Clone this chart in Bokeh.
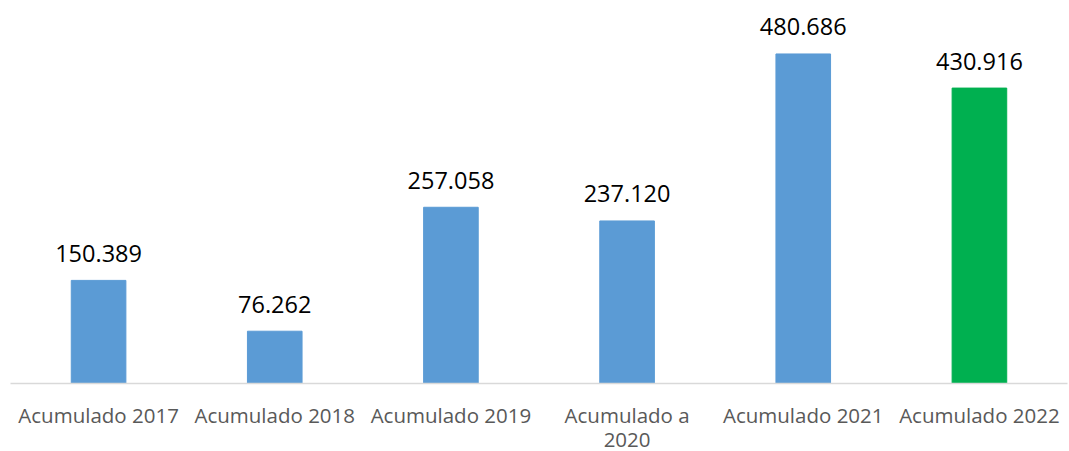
import json
from bokeh.plotting import figure
from bokeh.models import ColumnDataSource, Range1d, CategoricalAxis, CustomJSTickFormatter
from bokeh.core.properties import value
from bokeh.embed import file_html
from bokeh.resources import INLINE

categories = ["Acumulado 2017", "Acumulado 2018", "Acumulado 2019",
              "Acumulado a 2020", "Acumulado 2021", "Acumulado 2022"]
line1 = ["Acumulado 2017", "Acumulado 2018", "Acumulado 2019",
         "Acumulado a", "Acumulado 2021", "Acumulado 2022"]
line2 = ["", "", "", "2020", "", ""]
values = [150389, 76262, 257058, 237120, 480686, 430916]
labels = ["150.389", "76.262", "257.058", "237.120", "480.686", "430.916"]
colors = ["#5B9BD5", "#5B9BD5", "#5B9BD5", "#5B9BD5", "#5B9BD5", "#00B050"]

src = ColumnDataSource(dict(cat=categories, val=values, lab=labels, col=colors))

p = figure(x_range=categories, y_range=Range1d(0, 547000),
           frame_width=1057, frame_height=375, output_backend="svg", toolbar_location=None,
           min_border_left=10, min_border_right=2, min_border_top=8, min_border_bottom=0)
p.outline_line_color = None
p.grid.visible = False
p.yaxis.visible = False

p.vbar(x="cat", top="val", width=0.31, color="col", source=src)
p.text(x="cat", y="val", text="lab", source=src, text_align="center",
       text_baseline="alphabetic", y_offset=-27, text_font=value("Open Sans"),
       text_font_size="23.5px", text_color="#000000")


def fmt(mapping):
    return CustomJSTickFormatter(code="const m = %s; return m[tick];" % json.dumps(mapping))


ax = p.xaxis[0]
ax.axis_line_color = "#D9D9D9"
ax.axis_line_width = 1.5
ax.major_tick_line_color = None
ax.minor_tick_line_color = None
ax.major_label_text_font = "Open Sans"
ax.major_label_text_font_size = "20.5px"
ax.major_label_text_color = "#595959"
ax.major_label_standoff = 11
ax.formatter = fmt(dict(zip(categories, line1)))

ax2 = CategoricalAxis(axis_line_color=None, major_tick_line_color=None,
                      minor_tick_line_color=None, major_label_text_font="Open Sans",
                      major_label_text_font_size="20.5px",
                      major_label_text_color="#595959", major_label_standoff=-5,
                      formatter=fmt(dict(zip(categories, line2))))
p.add_layout(ax2, "below")

html = file_html(p, INLINE)
html = html.replace("<head>", "<head><style>html,body{overflow:hidden;margin:0}</style>", 1)
open("out.html", "w").write(html)
